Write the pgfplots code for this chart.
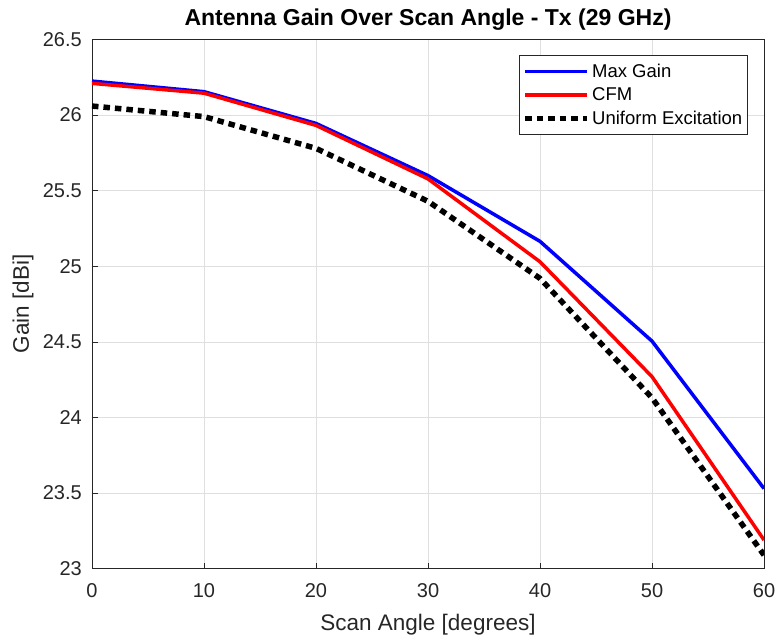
\documentclass[border=0pt]{standalone}
\usepackage{pgfplots}
\pgfplotsset{compat=1.18}
\usepackage{fontspec}
\setmainfont{Liberation Sans}
\definecolor{axgray}{RGB}{38,38,38}
\definecolor{gridgray}{RGB}{223,223,223}
\begin{document}
\begin{tikzpicture}
\begin{axis}[
  name=ax,
  scale only axis,
  width=672pt, height=529.2pt,
  xmin=0, xmax=60, ymin=23, ymax=26.5,
  xtick={0,10,...,60},
  ytick={23,23.5,...,26.5},
  yticklabels={23,23.5,24,24.5,25,25.5,26,26.5},
  /pgf/number format/assume math mode=true,
  grid=major,
  major grid style={gridgray, line width=0.8pt},
  axis line style={axgray, line width=0.8pt},
  tick style={axgray, line width=0.8pt},
  major tick length=6pt,
  tick align=inside,
  xtick pos=bottom, ytick pos=left,
  ticklabel style={font=\fontsize{20}{22}\selectfont, text=axgray},
  yticklabel style={xshift=-6.7pt},
  xticklabel style={yshift=-11pt},
  xlabel={Scan Angle [degrees]},
  ylabel={Gain [dBi]},
  label style={font=\fontsize{22.5}{25}\selectfont, text=axgray},
  xlabel style={at={(axis description cs:0.5,0)}, anchor=base, yshift=-61.3pt},
  ylabel style={at={(axis description cs:-0.09375,0.5)}, anchor=base},
  title={\textbf{Antenna Gain Over Scan Angle - Tx (29 GHz)}},
  title style={font=\fontsize{23}{25}\selectfont, at={(axis description cs:0.5,1)}, anchor=base, yshift=7.5pt},
  legend style={at={(0.9757,0.9707)}, anchor=north east, draw=axgray, line width=0.8pt,
    font=\fontsize{18.5}{21}\selectfont, row sep=5pt, inner xsep=3pt, inner ysep=6.5pt},
  legend cell align=left,
  legend image code/.code={\draw[#1] (0pt,0pt) -- (62pt,0pt);},
]
\addplot[blue, line width=3.5pt] coordinates {(0,26.225) (10,26.155) (20,25.945) (30,25.6) (40,25.165) (50,24.505) (60,23.53)};
\addlegendentry{Max Gain}
\addplot[red, line width=3.5pt] coordinates {(0,26.21) (10,26.145) (20,25.932) (30,25.578) (40,25.03) (50,24.27) (60,23.19)};
\addlegendentry{CFM}
\addplot[black, line width=5.5pt, dash pattern=on 6.5pt off 5pt] coordinates {(0,26.06) (10,25.99) (20,25.78) (30,25.43) (40,24.92) (50,24.13) (60,23.09)};
\addlegendentry{Uniform Excitation}
\end{axis}
\pgfresetboundingbox
\path[use as bounding box] ([shift={(-92pt,-66.3pt)}]ax.south west) rectangle ([shift={(13pt,39.5pt)}]ax.north east);
\end{tikzpicture}
\end{document}
